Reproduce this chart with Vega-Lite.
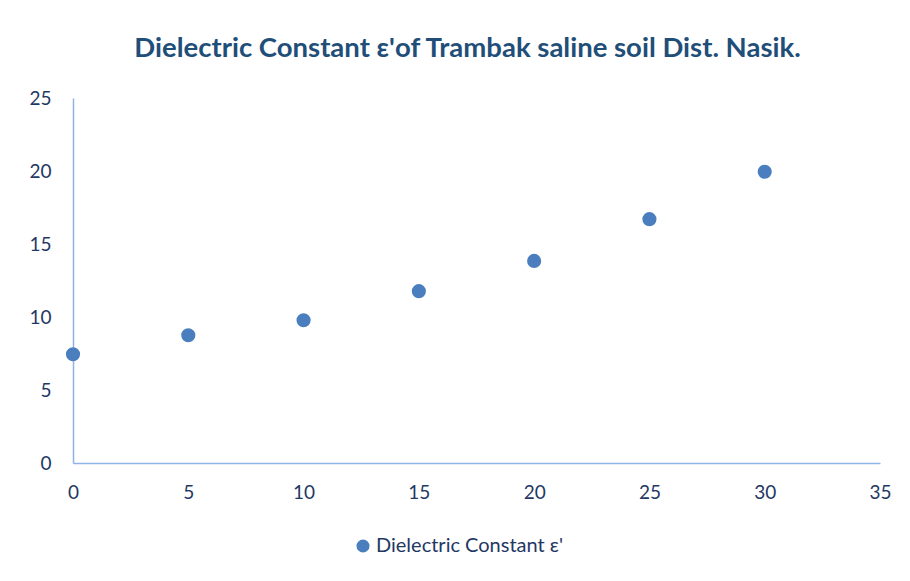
{
  "$schema": "https://vega.github.io/schema/vega-lite/v6.json",
  "width": 807,
  "height": 365,
  "autosize": {"type": "none"},
  "padding": {"left": 73, "top": 98, "right": 30, "bottom": 118},
  "background": "white",
  "title": {
    "text": "Dielectric Constant  ε'of Trambak saline soil Dist. Nasik.",
    "font": "Lato",
    "fontSize": 27.5,
    "fontWeight": "bold",
    "color": "#1F4E79",
    "anchor": "middle",
    "offset": 27,
    "dx": -9
  },
  "data": {
    "values": [
      {"x": 0, "y": 7.45, "series": "Dielectric Constant  ε'"},
      {"x": 5, "y": 8.75, "series": "Dielectric Constant  ε'"},
      {"x": 10, "y": 9.78, "series": "Dielectric Constant  ε'"},
      {"x": 15, "y": 11.77, "series": "Dielectric Constant  ε'"},
      {"x": 20, "y": 13.84, "series": "Dielectric Constant  ε'"},
      {"x": 25, "y": 16.7, "series": "Dielectric Constant  ε'"},
      {"x": 30, "y": 19.95, "series": "Dielectric Constant  ε'"}
    ]
  },
  "mark": {"type": "circle", "size": 200, "opacity": 1},
  "encoding": {
    "x": {
      "field": "x",
      "type": "quantitative",
      "scale": {"domain": [0, 35], "nice": false, "zero": false},
      "axis": {"title": null, "values": [0, 5, 10, 15, 20, 25, 30, 35], "grid": false, "ticks": false, "labelFlush": false, "labelBound": false, "domainColor": "#8EB4E3", "domainWidth": 1.5, "labelFont": "Lato", "labelFontSize": 19, "labelColor": "#1F3864", "labelPadding": 20}
    },
    "y": {
      "field": "y",
      "type": "quantitative",
      "scale": {"domain": [0, 25], "nice": false},
      "axis": {"title": null, "values": [0, 5, 10, 15, 20, 25], "grid": false, "ticks": false, "labelFlush": false, "labelBound": false, "domainColor": "#8EB4E3", "domainWidth": 1.5, "labelFont": "Lato", "labelFontSize": 19, "labelColor": "#1F3864", "labelPadding": 22}
    },
    "color": {
      "field": "series",
      "type": "nominal",
      "scale": {"range": ["#4A7EBF"]},
      "legend": {"title": null, "orient": "none", "legendX": 280, "legendY": 438, "symbolType": "circle", "symbolSize": 170, "labelLimit": 400, "labelOffset": 3, "labelFont": "Lato", "labelFontSize": 20, "labelColor": "#1F3864", "symbolOpacity": 1}
    }
  },
  "config": {"view": {"stroke": null}}
}
